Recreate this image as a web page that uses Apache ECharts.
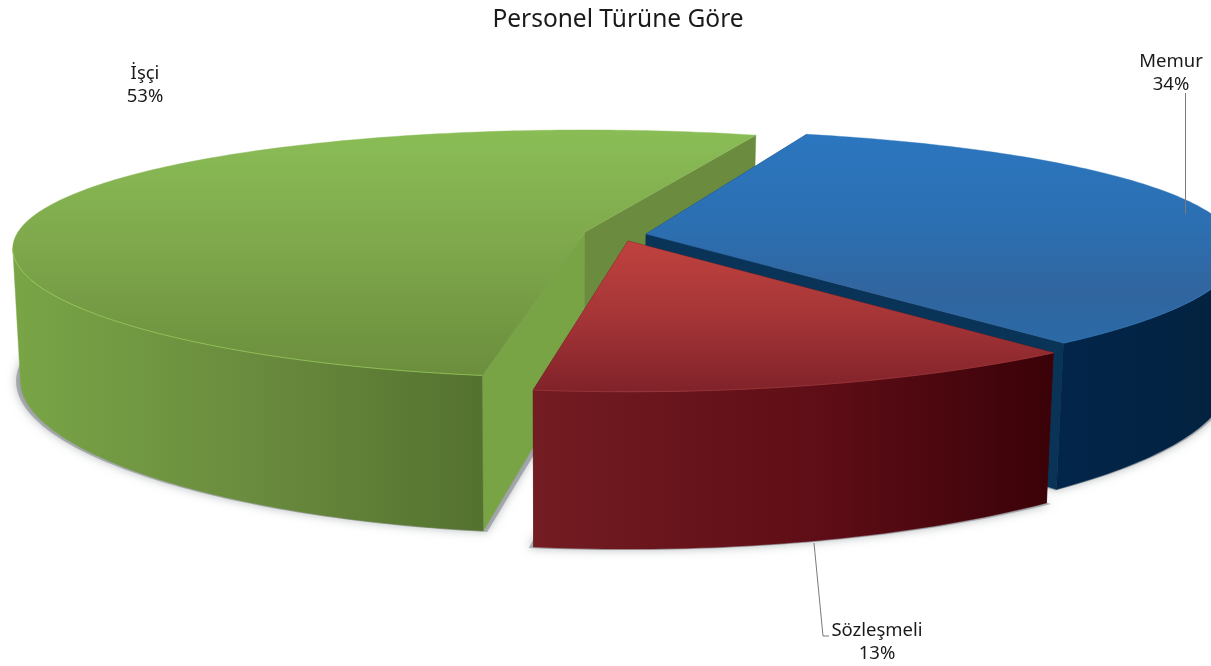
<!DOCTYPE html>
<html>
<head>
<meta charset="utf-8">
<script src="https://cdn.jsdelivr.net/npm/echarts@6/dist/echarts.min.js"></script>
<style>html,body{margin:0;padding:0;background:#fff}#c{width:1211px;height:666px}</style>
</head>
<body>
<div id="c"></div>
<script>
const titleText = 'Personel Türüne Göre';
const categories = ['İşçi', 'Memur', 'Sözleşmeli'];
const shares = [53, 34, 13];

// Styling and placement, one entry per slice
const startAngle = 188.8;
const apex = [[585, 232], [646, 234], [628, 241]];
const sliceScale = [1, 1.02, 1.035];
const sliceScaleX = [1, 1.035, 1.067];
const sliceDepth = [1, 0.965, 0.975];
const sliceTurn = [0.25, -1.6, -1.0];
const topStops = [
  [[0, '#8abd56'], [0.45, '#7fa94c'], [1, '#6b8e3d']],
  [[0, '#2b76bf'], [0.45, '#2c6fb1'], [0.75, '#31659f'], [1, '#2a6aa6']],
  [[0, '#c0423f'], [0.5, '#a53537'], [1, '#80222a']]
];
const wallStops = [
  [[0, '#79a546'], [0.5, '#6a8c3e'], [1, '#54722f']],
  [[0, '#02254a'], [1, '#03223e']],
  [[0, '#731c22'], [0.55, '#5f0d16'], [1, '#3a0208']]
];
const sideColors = [['#6b8b3e', '#79a446'], ['#0a3358', '#0a3358'], ['#4a0a10', '#4a0a10']];
const rimColors = ['#9bd05c', '#2f74b5', '#a23a3c'];
const labelAt = [[145, 85], [1171, 73], [877, 642]];
const leaders = [null, [[1185.5, 93], [1185.5, 214]], [[814, 543], [823, 636], [829, 636]]];

// Perspective of the tilted disc
const RX = 567, RY = 120, PERSP_X = 0.135, PERSP_Y = 0.176, DEPTH = 128.5, FOOT_X = 560, FOOT_K = 0.986;
const SILHOUETTE = Math.asin(PERSP_X) * 180 / Math.PI;

function project(i, deg, r, z) {
  const t = deg * Math.PI / 180, u = Math.sin(t) * r, v = -Math.cos(t) * r;
  const wx = 1 - PERSP_X * v, wy = 1 - PERSP_Y * v, s = sliceScale[i];
  let x = apex[i][0] + RX * sliceScaleX[i] * u / wx;
  let y = apex[i][1] + RY * s * v / wy;
  if (z) {
    x = FOOT_X + (x - FOOT_X) * FOOT_K;
    y += DEPTH * s * sliceDepth[i] / wy;
  }
  return [x, y];
}
function sliceAngles(i) {
  const total = shares.reduce((a, b) => a + b, 0);
  let a0 = startAngle;
  for (let k = 0; k < i; k++) a0 += shares[k] / total * 360;
  const a1 = a0 + shares[i] / total * 360;
  return [a0 + sliceTurn[i], a1 + sliceTurn[i]];
}
function arc(i, a0, a1, z) {
  const pts = [], n = Math.max(2, Math.ceil(Math.abs(a1 - a0)));
  for (let k = 0; k <= n; k++) pts.push(project(i, a0 + (a1 - a0) * k / n, 1, z));
  return pts;
}
function grad(stops, x2, y2) {
  return new echarts.graphic.LinearGradient(0, 0, x2, y2, stops.map(s => ({ offset: s[0], color: s[1] })));
}
function poly(points, fill, extra) {
  return Object.assign({ type: 'polygon', shape: { points }, style: { fill, stroke: fill, lineWidth: 0.4 } }, extra || {});
}
// Arc angles are measured clockwise from the back; the wall shows only between the disc's side extremes.
function frontRange(a0, a1) {
  const ranges = [];
  for (let base = -360; base <= 720; base += 360) {
    const lo = Math.max(a0, base + 90 + SILHOUETTE), hi = Math.min(a1, base + 270 - SILHOUETTE);
    if (lo < hi) ranges.push([lo, hi]);
  }
  return ranges;
}

function renderShadow(params) {
  const i = params.dataIndex, [a0, a1] = sliceAngles(i);
  const foot = arc(i, a0, a1, 1).concat([project(i, 0, 0, 1)]);
  const mx = foot.reduce((s, p) => s + p[0], 0) / foot.length;
  const pts = foot.map(p => [mx + (p[0] - mx) * 1.018, p[1] + 1]);
  return {
    type: 'polygon', shape: { points: pts },
    style: { fill: 'rgba(130,135,140,0.6)', shadowBlur: 10, shadowColor: 'rgba(120,125,130,0.85)' }
  };
}

function renderSlice(params) {
  const i = params.dataIndex, [a0, a1] = sliceAngles(i);
  const top0 = project(i, 0, 0, 0), foot0 = project(i, 0, 0, 1);
  const children = [];
  // cut faces
  [a0, a1].forEach(a => {
    const isBack = Math.cos(a * Math.PI / 180) > 0;
    const color = sideColors[i][isBack ? 0 : 1];
    children.push(poly([top0, project(i, a, 1, 0), project(i, a, 1, 1), foot0], color));
  });
  // outer wall
  frontRange(a0, a1).forEach(r => {
    const upper = arc(i, r[0], r[1], 0), lower = arc(i, r[0], r[1], 1).reverse();
    children.push(poly(upper.concat(lower), grad(wallStops[i], 1, 0)));
  });
  // top face
  children.push(poly(arc(i, a0, a1, 0).concat([top0]), grad(topStops[i], 0, 1), { z2: 3 }));
  frontRange(a0, a1).forEach(r => children.push({
    type: 'polyline', shape: { points: arc(i, r[0], r[1], 0) },
    style: { fill: null, stroke: rimColors[i], lineWidth: 1, opacity: 0.7 }, z2: 5
  }));
  return { type: 'group', children };
}

function renderLabel(params, api) {
  const i = params.dataIndex, children = [];
  if (leaders[i]) children.push({
    type: 'polyline', shape: { points: leaders[i] },
    style: { fill: null, stroke: '#7a7a7a', lineWidth: 1 }
  });
  children.push({
    type: 'text',
    style: {
      x: labelAt[i][0], y: labelAt[i][1], align: 'center', verticalAlign: 'middle',
      text: categories[i] + '\n' + api.value(0) + '%',
      font: '18.5px "Noto Sans"', lineHeight: 23, fill: '#1a1a1a'
    }
  });
  return { type: 'group', children };
}

const chart = echarts.init(document.getElementById('c'), null, { renderer: 'canvas' });
const data = shares.map(v => [v]);
chart.setOption({
  animation: false,
  backgroundColor: '#ffffff',
  title: {
    text: titleText, left: 613, top: 3, textAlign: 'center',
    textStyle: { fontFamily: 'Noto Sans', fontSize: 24.5, fontWeight: 'normal', color: '#1a1a1a' }
  },
  series: [
    { type: 'custom', coordinateSystem: 'none', data, renderItem: renderShadow, z: 1, silent: true },
    { type: 'custom', coordinateSystem: 'none', data, renderItem: renderSlice, z: 2, silent: true },
    { type: 'custom', coordinateSystem: 'none', data, renderItem: renderLabel, z: 3, silent: true }
  ]
});
</script>
</body>
</html>
